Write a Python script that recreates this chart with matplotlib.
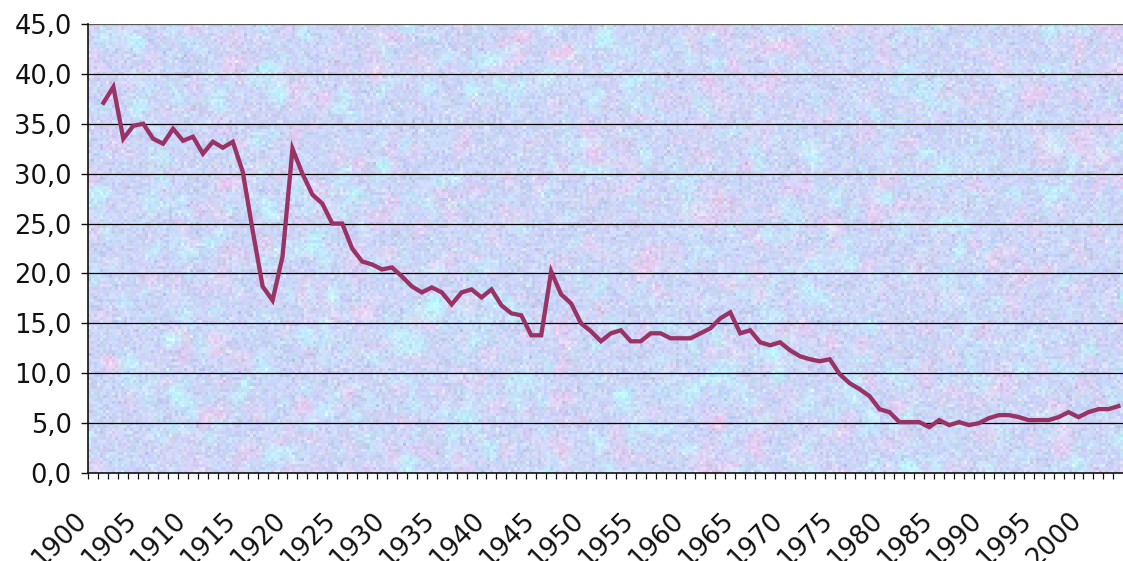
import numpy as np
import matplotlib
matplotlib.use("Agg")
import matplotlib.pyplot as plt
from matplotlib.transforms import ScaledTranslation

# yearly values, first category (1900) is left empty
years = np.arange(1901, 2004)
values = [37.1, 38.7, 33.5, 34.8, 35.0, 33.5, 33.0, 34.5, 33.3, 33.7,
          32.0, 33.2, 32.6, 33.2, 30.2, 24.3, 18.7, 17.3, 21.7, 32.5,
          30.0, 27.9, 27.0, 25.0, 25.0, 22.5, 21.2, 20.9, 20.4, 20.6,
          19.7, 18.7, 18.1, 18.6, 18.1, 16.9, 18.1, 18.4, 17.6, 18.4,
          16.8, 16.0, 15.8, 13.8, 13.8, 20.2, 17.9, 17.0, 15.0, 14.2,
          13.2, 14.0, 14.3, 13.2, 13.2, 14.0, 14.0, 13.5, 13.5, 13.5,
          14.0, 14.5, 15.5, 16.1, 14.0, 14.3, 13.1, 12.8, 13.1, 12.3,
          11.7, 11.4, 11.2, 11.4, 9.9, 9.0, 8.4, 7.7, 6.4, 6.1,
          5.1, 5.1, 5.1, 4.6, 5.3, 4.8, 5.1, 4.8, 5.0, 5.5,
          5.8, 5.8, 5.6, 5.3, 5.3, 5.3, 5.6, 6.1, 5.6, 6.1,
          6.4, 6.4, 6.7]

label_years = list(range(1900, 2001, 5))
y_ticks = np.arange(0, 46, 5)

x0 = 1899.5
x1 = 1899.5 + 1034.5 / 9.95


def blur(a, n):
    # cheap box blur, repeated
    for _ in range(n):
        a = (a + np.roll(a, 1, 0) + np.roll(a, -1, 0) + np.roll(a, 1, 1) + np.roll(a, -1, 1)) / 5
    return a


def norm(a):
    return (a - a.mean()) / a.std()


# pastel textured fill for the plot area
rng = np.random.default_rng(11)
H, W = 150, 345
pink_f = norm(blur(rng.standard_normal((H, W)), 10))
cyan_f = norm(blur(rng.standard_normal((H, W)), 8))
fine = rng.standard_normal((H, W, 3))

base = np.array([0.80, 0.84, 0.97])
pink = np.array([0.89, 0.81, 0.95])
cyan = np.array([0.77, 0.91, 0.99])
img = (base
       + np.clip(pink_f, 0, None)[..., None] * (pink - base) * 0.4
       + np.clip(cyan_f, 0, None)[..., None] * (cyan - base) * 0.5
       + fine * 0.018
       + rng.standard_normal((H, W, 1)) * 0.025)
img = np.clip(img, 0, 1)

fig = plt.figure(figsize=(11.23, 5.61), dpi=100)
ax = fig.add_axes([88.5 / 1123, 88 / 561, 1034.5 / 1123, 449 / 561])

ax.imshow(img, extent=(x0, x1, 0, 45), aspect="auto", interpolation="nearest", zorder=0)

for v in y_ticks[1:]:
    ax.axhline(v, color="black" if v < 45 else "#555555", lw=0.9, zorder=1)

ax.plot(years, values, color="#993366", lw=3.1, solid_joinstyle="miter", zorder=3)

ax.set_xlim(x0, x1)
ax.set_ylim(0, 45)

ax.spines["top"].set_visible(False)
ax.spines["right"].set_visible(False)
ax.spines["left"].set_color("#111111")
ax.spines["bottom"].set_color("#111111")
ax.spines["left"].set_linewidth(1.2)
ax.spines["bottom"].set_linewidth(1.2)

ax.set_yticks(y_ticks)
ax.set_yticklabels([f"{v:.1f}".replace(".", ",") for v in y_ticks])
ax.tick_params(axis="y", direction="out", length=5, width=1, pad=7, labelsize=18.5, colors="#111111")

# tick marks between categories, labels every five years
ax.set_xticks(np.arange(x0, x1, 1.0))
ax.set_xticklabels([])
ax.tick_params(axis="x", which="major", direction="out", length=4.5, width=0.9, colors="#111111")
ax.set_xticks(label_years, minor=True)
ax.set_xticklabels([str(y) for y in label_years], minor=True, rotation=45,
                   ha="right", va="top", rotation_mode="anchor")
ax.tick_params(axis="x", which="minor", length=0, pad=25, labelsize=18.5, colors="#111111")
shift = ScaledTranslation(-0.2, 0, fig.dpi_scale_trans)
for lab in ax.get_xticklabels(minor=True):
    lab.set_transform(lab.get_transform() + shift)

fig.savefig("out.png", dpi=100)
